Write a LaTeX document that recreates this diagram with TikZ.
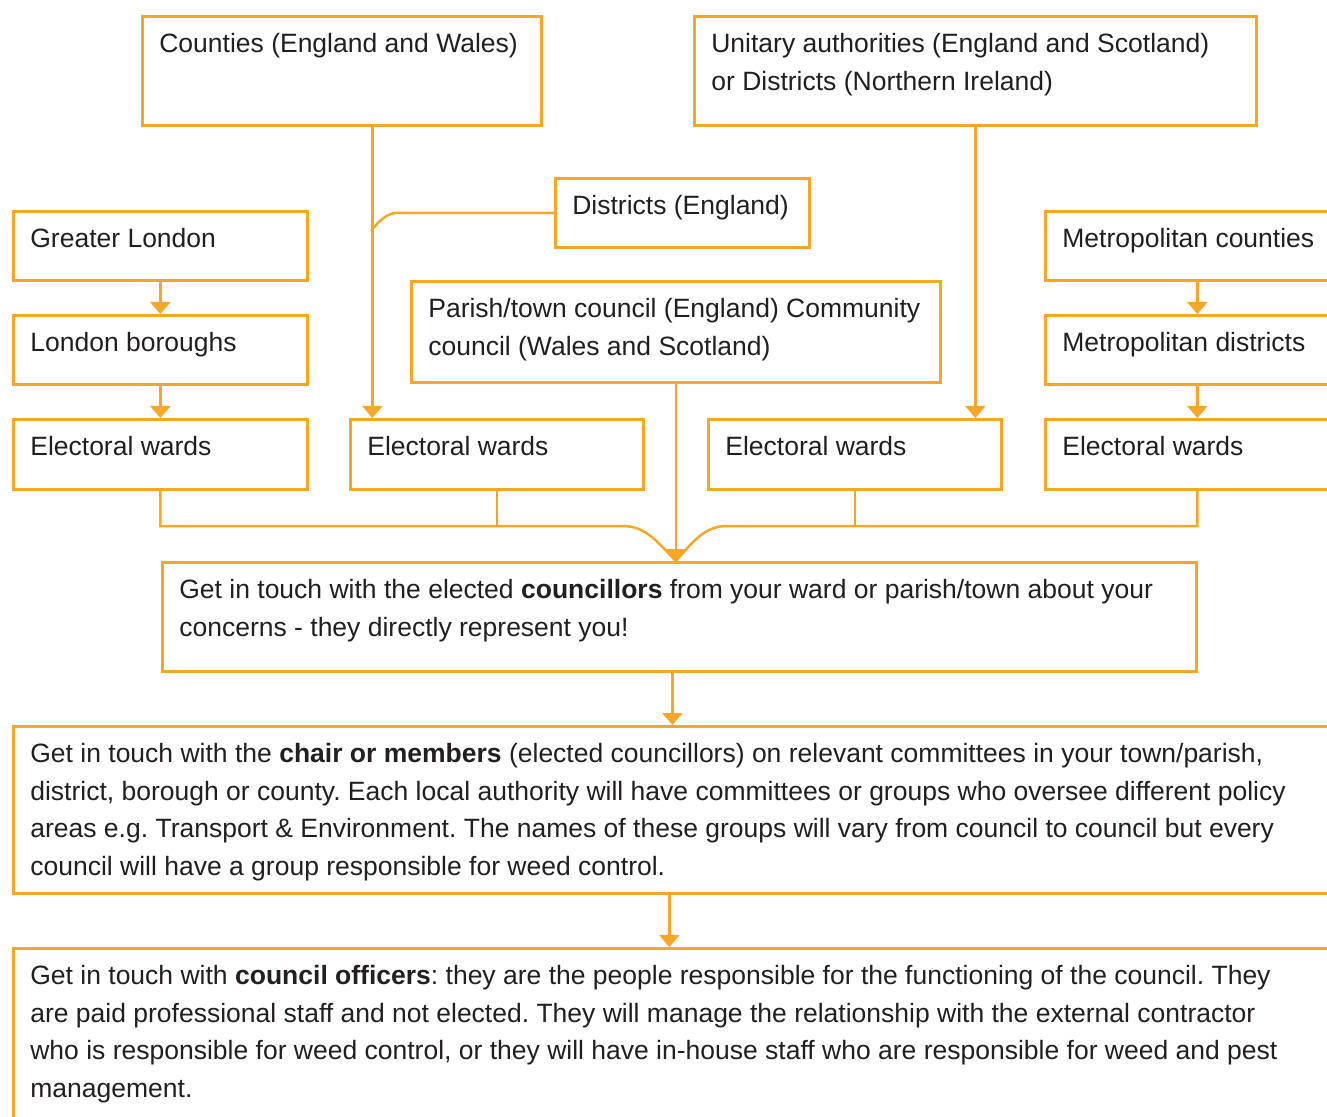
\documentclass[tikz,border=0pt]{standalone}
\usepackage{fontspec}
\setmainfont{Liberation Sans}
\usetikzlibrary{arrows.meta}
\definecolor{lineorange}{RGB}{247,166,38}
\definecolor{textgrey}{RGB}{35,31,32}
\newcommand{\boxtext}[3]{\parbox[t][#2][t]{#1}{\frenchspacing\begin{tabular}[t]{@{}l@{}}#3\end{tabular}}}

\begin{document}
\begin{tikzpicture}[x=0.5pt,y=-0.5pt,
    orgbox/.style={draw=lineorange, line width=1.35pt, anchor=north west, inner xsep=8.5pt, inner ysep=5pt,
      text=textgrey, font=\fontsize{13.25}{18.75}\selectfont},
    link/.style={draw=lineorange, line width=1.25pt},
    arrowlink/.style={link, -{Triangle[width=10pt,length=6pt]}}]
  \useasboundingbox (0,0) rectangle (1327,1117);

  % authorities
  \node[orgbox] (counties) at (141,15) {\boxtext{182.5pt}{44.5pt}{Counties (England and Wales)}};
  \node[orgbox] (unitary) at (693,15) {\boxtext{264pt}{44.5pt}{Unitary authorities (England and Scotland)\\ or Districts (Northern Ireland)}};
  \node[orgbox] (districts) at (554,177) {\boxtext{110pt}{24.5pt}{Districts (England)}};
  \node[orgbox] (greater) at (12,210) {\boxtext{130pt}{24.5pt}{Greater London}};
  \node[orgbox] (boroughs) at (12,314) {\boxtext{130pt}{24.5pt}{London boroughs}};
  \node[orgbox] (parish) at (410,280) {\boxtext{247.5pt}{40.5pt}{Parish/town council (England) Community\\ council (Wales and Scotland)}};
  \node[orgbox] (metcounties) at (1044,210) {\boxtext{135pt}{24.5pt}{Metropolitan counties}};
  \node[orgbox] (metdistricts) at (1044,314) {\boxtext{135pt}{24.5pt}{Metropolitan districts}};

  % wards
  \node[orgbox] (wardsA) at (12,418) {\boxtext{130pt}{25pt}{Electoral wards}};
  \node[orgbox] (wardsB) at (349,418) {\boxtext{129.5pt}{25pt}{Electoral wards}};
  \node[orgbox] (wardsC) at (707,418) {\boxtext{129.5pt}{25pt}{Electoral wards}};
  \node[orgbox] (wardsD) at (1044,418) {\boxtext{135pt}{25pt}{Electoral wards}};

  % who to contact
  \node[orgbox] (councillors) at (161,561) {\boxtext{500pt}{44.5pt}{Get in touch with the elected \textbf{councillors} from your ward or parish/town about your\\ concerns - they directly represent you!}};
  \node[orgbox] (chair) at (12,725) {\boxtext{651pt}{73.5pt}{Get in touch with the \textbf{chair or members} (elected councillors) on relevant committees in your town/parish,\\ district, borough or county. Each local authority will have committees or groups who oversee different policy\\ areas e.g. Transport \& Environment. The names of these groups will vary from council to council but every\\ council will have a group responsible for weed control.}};
  \node[orgbox] (officers) at (12,947) {\boxtext{651pt}{81.5pt}{Get in touch with \textbf{council officers}: they are the people responsible for the functioning of the council. They\\ are paid professional staff and not elected. They will manage the relationship with the external contractor\\ who is responsible for weed control, or they will have in-house staff who are responsible for weed and pest\\ management.}};

  \coordinate (cntout) at ([xshift=15.25pt]counties.south);
  \coordinate (dstjoin) at (371,231);
  \coordinate (bus) at (0,526);
  \coordinate (tip) at (parish.south |- councillors.north);
  \coordinate (couout) at ([xshift=-3.5pt]councillors.south);
  \coordinate (chrout) at ([xshift=-6pt]chair.south);

  \draw[arrowlink] (greater) -- (boroughs);
  \draw[arrowlink] (boroughs) -- (wardsA);
  \draw[arrowlink] (metcounties) -- (metdistricts);
  \draw[arrowlink] (metdistricts) -- (wardsD);
  \draw[arrowlink] (cntout) -- (cntout |- wardsB.north);
  \draw[link] (districts.west) -- ++(-157,0) .. controls +(-10,0) and +(7,-9) .. (dstjoin);
  \draw[arrowlink] (unitary.south) -- (unitary.south |- wardsC.north);

  % wards into councillors
  \draw[link] (wardsA.south) |- (622,526) .. controls (644,526) and (654,538) .. (tip);
  \draw[link] (wardsB.south) -- (wardsB.south |- bus);
  \draw[link] (wardsD.south) |- (728,526) .. controls (706,526) and (696,538) .. (tip);
  \draw[link] (wardsC.south) -- (wardsC.south |- bus);
  \draw[arrowlink] (parish.south) -- (tip);

  \draw[arrowlink] (couout) -- (couout |- chair.north);
  \draw[arrowlink] (chrout) -- (chrout |- officers.north);
\end{tikzpicture}
\end{document}
